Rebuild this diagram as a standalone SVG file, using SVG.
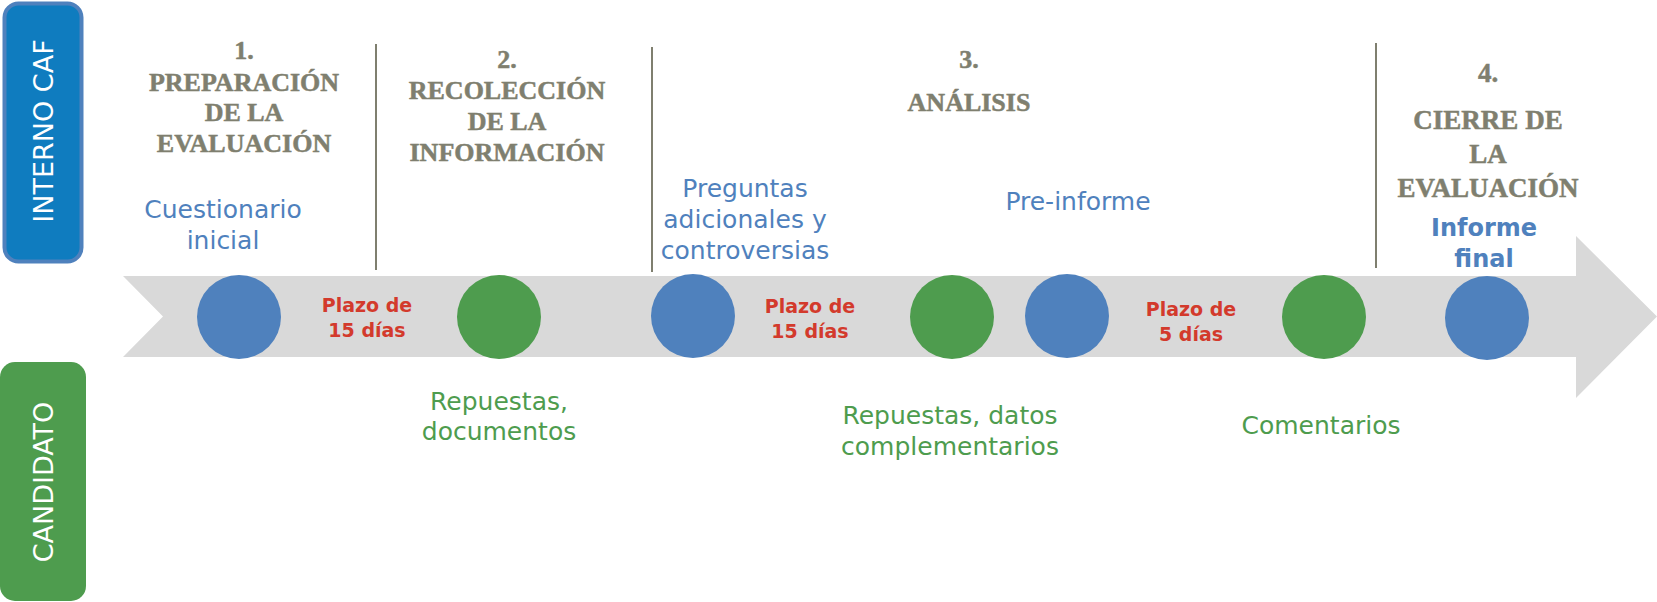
<svg xmlns="http://www.w3.org/2000/svg" width="1657" height="602" viewBox="0 0 1657 602">
<style>
.title{font-family:"Liberation Serif","Times New Roman",serif;font-weight:bold;font-size:26px;fill:#7f7f6f;stroke:#7f7f6f;stroke-width:0.5;text-anchor:middle}
.t4{font-size:27px}
.blue{font-family:"DejaVu Sans",sans-serif;font-size:25px;fill:#4f81bd;text-anchor:middle}
.blueb{font-family:"DejaVu Sans",sans-serif;font-size:24px;font-weight:bold;fill:#4f81bd;text-anchor:middle}
.red{font-family:"DejaVu Sans",sans-serif;font-size:19px;font-weight:bold;fill:#d33a2c;text-anchor:middle}
.green{font-family:"DejaVu Sans",sans-serif;font-size:25px;fill:#4e9c4e;text-anchor:middle}
.lane{font-family:"DejaVu Sans",sans-serif;font-size:27px;fill:#ffffff;text-anchor:middle}
.sep{stroke:#7f7f6f;stroke-width:2}
.cb{fill:#4f81bd}
.cg{fill:#4e9c4e}
</style>
<g id="lane-interno">
<rect x="4.5" y="3.5" width="77" height="258" rx="14" fill="#0f7cbf" stroke="#4f81bd" stroke-width="4"/>
<text class="lane" transform="translate(53 131) rotate(-90)">INTERNO CAF</text>
</g>
<g id="lane-candidato">
<rect x="0" y="362" width="86" height="239" rx="15" fill="#4e9c4e"/>
<text class="lane" transform="translate(52.5 482) rotate(-90)">CANDIDATO</text>
</g>
<g id="timeline-arrow">
<polygon points="123,276 1576,276 1576,236 1657,316.5 1576,398 1576,357 123,357 163,316.5" fill="#d9d9d9"/>
</g>
<g id="separators">
<line class="sep" x1="376" y1="44" x2="376" y2="270"/>
<line class="sep" x1="652" y1="47" x2="652" y2="272"/>
<line class="sep" x1="1376" y1="43" x2="1376" y2="268"/>
</g>
<g id="phase1">
<text class="title" x="244" y="59">1.</text>
<text class="title" x="244" y="90.5">PREPARACIÓN</text>
<text class="title" x="244" y="120.5">DE LA</text>
<text class="title" x="244" y="151.5">EVALUACIÓN</text>
</g>
<g id="phase2">
<text class="title" x="507" y="67.5">2.</text>
<text class="title" x="507" y="98.5">RECOLECCIÓN</text>
<text class="title" x="507" y="130">DE LA</text>
<text class="title" x="507" y="161">INFORMACIÓN</text>
</g>
<g id="phase3">
<text class="title" x="969" y="68">3.</text>
<text class="title" x="969" y="111">ANÁLISIS</text>
</g>
<g id="phase4">
<text class="title t4" x="1488" y="81.5">4.</text>
<text class="title t4" x="1488" y="129">CIERRE DE</text>
<text class="title t4" x="1488" y="162.5">LA</text>
<text class="title t4" x="1488" y="196.5">EVALUACIÓN</text>
</g>
<g id="label-cuestionario">
<text class="blue" x="223" y="218">Cuestionario</text>
<text class="blue" x="223" y="249">inicial</text>
</g>
<g id="label-preguntas">
<text class="blue" x="745" y="196.5">Preguntas</text>
<text class="blue" x="745" y="227.5">adicionales y</text>
<text class="blue" x="745" y="259">controversias</text>
</g>
<g id="label-preinforme">
<text class="blue" x="1078" y="210">Pre-informe</text>
</g>
<g id="label-informe-final">
<text class="blueb" x="1484" y="235.5">Informe</text>
<text class="blueb" x="1484" y="266.5">final</text>
</g>
<g id="plazo1">
<text class="red" x="367" y="311.5">Plazo de</text>
<text class="red" x="367" y="336.5">15 días</text>
</g>
<g id="plazo2">
<text class="red" x="810" y="313">Plazo de</text>
<text class="red" x="810" y="338">15 días</text>
</g>
<g id="plazo3">
<text class="red" x="1191" y="315.5">Plazo de</text>
<text class="red" x="1191" y="340.5">5 días</text>
</g>
<g id="label-repuestas1">
<text class="green" x="499" y="410">Repuestas,</text>
<text class="green" x="499" y="440">documentos</text>
</g>
<g id="label-repuestas2">
<text class="green" x="950" y="424">Repuestas, datos</text>
<text class="green" x="950" y="455">complementarios</text>
</g>
<g id="label-comentarios">
<text class="green" x="1321" y="434">Comentarios</text>
</g>
<g id="milestones">
<circle id="m1" class="cb" cx="239" cy="317" r="42"/>
<circle id="m2" class="cg" cx="499" cy="317" r="42"/>
<circle id="m3" class="cb" cx="693" cy="316" r="42"/>
<circle id="m4" class="cg" cx="952" cy="317" r="42"/>
<circle id="m5" class="cb" cx="1067" cy="316" r="42"/>
<circle id="m6" class="cg" cx="1324" cy="317" r="42"/>
<circle id="m7" class="cb" cx="1487" cy="318" r="42"/>
</g>
</svg>
